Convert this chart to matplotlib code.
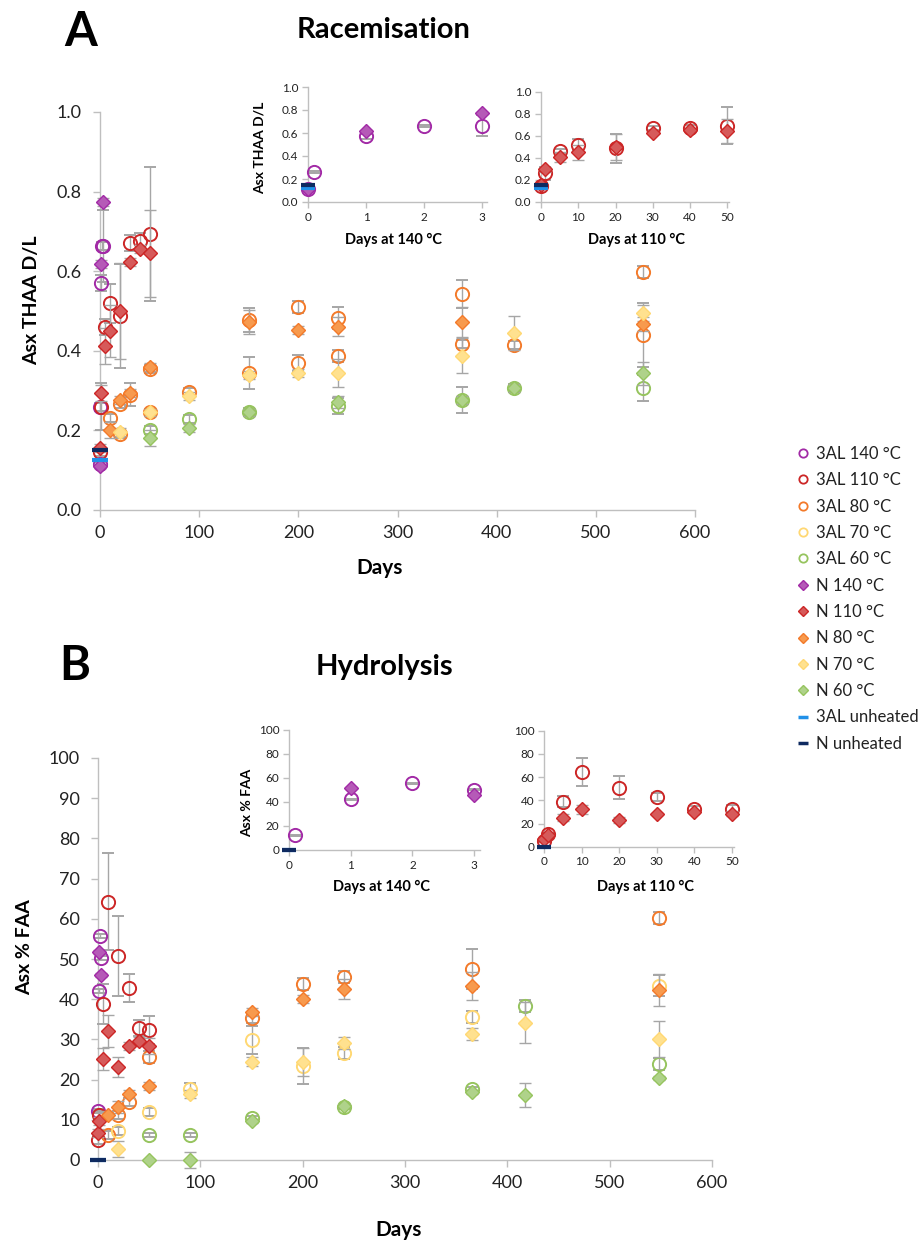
import matplotlib
matplotlib.use("Agg")
import matplotlib.pyplot as plt
from matplotlib.lines import Line2D
from matplotlib.ticker import FormatStrFormatter, MultipleLocator

plt.rcParams['font.family'] = ['Lato', 'DejaVu Sans']

W, H = 921, 1241

# ---------------- panel A: racemisation (Asx THAA D/L) ----------------
a_3al140_d = [0, 0.1, 1, 2, 3]
a_3al140_v = [0.116, 0.26, 0.57, 0.663, 0.663]
a_3al140_e = [0.005, 0.01, 0.02, 0.01, 0.09]
a_n140_d = [0, 1, 3]
a_n140_v = [0.11, 0.618, 0.775]
a_n140_e = [0.005, 0.01, 0.01]
a_3al110_d = [0, 1, 5, 10, 20, 30, 40, 50]
a_3al110_v = [0.145, 0.26, 0.46, 0.519, 0.487, 0.67, 0.675, 0.693]
a_3al110_e = [0.01, 0.06, 0.02, 0.05, 0.13, 0.02, 0.02, 0.168]
a_n110_d = [0, 1, 5, 10, 20, 30, 40, 50]
a_n110_v = [0.155, 0.295, 0.412, 0.45, 0.50, 0.624, 0.655, 0.645]
a_n110_e = [0.01, 0.02, 0.045, 0.065, 0.12, 0.01, 0.01, 0.11]
a_3al80_d = [10, 20, 30, 50, 150, 200, 240, 365, 548]
a_3al80_v = [0.23, 0.267, 0.29, 0.354, 0.477, 0.511, 0.482, 0.543, 0.598]
a_3al80_e = [0.01, 0.01, 0.028, 0.01, 0.03, 0.015, 0.027, 0.036, 0.016]
a_n80_d = [10, 20, 30, 50, 150, 200, 240, 365, 548]
a_n80_v = [0.201, 0.276, 0.295, 0.36, 0.473, 0.453, 0.461, 0.472, 0.468]
a_n80_e = [0.02, 0.01, 0.01, 0.01, 0.03, 0.01, 0.025, 0.037, 0.018]
a_3al70_d = [20, 50, 90, 150, 200, 240, 365, 417, 548]
a_3al70_v = [0.191, 0.247, 0.296, 0.345, 0.369, 0.387, 0.417, 0.415, 0.439]
a_3al70_e = [0.01, 0.008, 0.01, 0.04, 0.02, 0.015, 0.01, 0.01, 0.08]
a_n70_d = [20, 50, 90, 150, 200, 240, 365, 417, 548]
a_n70_v = [0.197, 0.245, 0.287, 0.34, 0.344, 0.345, 0.388, 0.444, 0.494]
a_n70_e = [0.01, 0.01, 0.01, 0.01, 0.01, 0.035, 0.043, 0.043, 0.02]
a_3al60_d = [50, 90, 150, 240, 365, 417, 548]
a_3al60_v = [0.201, 0.228, 0.247, 0.261, 0.276, 0.307, 0.306]
a_3al60_e = [0.01, 0.01, 0.01, 0.02, 0.033, 0.01, 0.032]
a_n60_d = [50, 90, 150, 240, 365, 417, 548]
a_n60_v = [0.18, 0.205, 0.245, 0.272, 0.276, 0.307, 0.343]
a_n60_e = [0.02, 0.01, 0.01, 0.015, 0.01, 0.01, 0.03]
a_unh_3al = 0.126
a_unh_n = 0.150

# ---------------- panel B: hydrolysis (Asx % FAA) ----------------
b_3al140_d = [0.1, 1, 2, 3]
b_3al140_v = [12.3, 42.1, 55.6, 50.2]
b_3al140_e = [0.5, 0.5, 0.5, 0.5]
b_n140_d = [1, 3]
b_n140_v = [51.7, 46.0]
b_n140_e = [0.5, 0.5]
b_3al110_d = [0, 1, 5, 10, 20, 30, 40, 50]
b_3al110_v = [5.0, 11.2, 38.8, 64.3, 50.8, 42.7, 32.8, 32.3]
b_3al110_e = [1, 1, 5, 12, 10, 3.5, 2, 3.5]
b_n110_d = [0, 1, 5, 10, 20, 30, 40, 50]
b_n110_v = [6.6, 9.8, 25.1, 32.1, 23.1, 28.4, 29.7, 28.4]
b_n110_e = [1, 1, 2.8, 4, 2.5, 1, 1, 2]
b_3al80_d = [10, 20, 30, 50, 150, 200, 240, 365, 548]
b_3al80_v = [6.1, 11.2, 14.5, 25.7, 35.2, 43.8, 45.5, 47.5, 60.2]
b_3al80_e = [1, 1, 1, 1.5, 1, 1.5, 1.5, 5, 1.5]
b_n80_d = [10, 20, 30, 50, 150, 200, 240, 365, 548]
b_n80_v = [11.2, 13.1, 16.3, 18.3, 36.9, 40.1, 42.5, 43.2, 42.3]
b_n80_e = [1, 1.5, 1, 1, 1, 1, 2.5, 3.5, 3.9]
b_3al70_d = [20, 50, 90, 150, 200, 240, 365, 548]
b_3al70_v = [7.3, 11.9, 17.6, 29.9, 23.4, 26.7, 35.5, 43.4]
b_3al70_e = [1, 1, 1.5, 3.5, 4.5, 1.5, 1.5, 2.7]
b_n70_d = [20, 90, 150, 200, 240, 365, 417, 548]
b_n70_v = [2.7, 16.4, 24.5, 24.4, 29.0, 31.4, 34.2, 30.1]
b_n70_e = [2, 1, 1.2, 3.5, 1.5, 1.5, 5.2, 4.5]
b_3al60_d = [50, 90, 150, 240, 365, 417, 548]
b_3al60_v = [6.2, 6.2, 10.5, 13.1, 17.6, 38.4, 23.9]
b_3al60_e = [0.5, 0.5, 0.5, 0.5, 0.5, 1.5, 1.5]
b_n60_d = [50, 90, 150, 240, 365, 417, 548]
b_n60_v = [0, 0, 9.8, 13.4, 16.8, 16.2, 20.5]
b_n60_e = [0.3, 1.9, 0.5, 0.5, 0.5, 3, 0.5]
b_unh_3al = 0
b_unh_n = 0

legend_labels = ['3AL 140 °C', '3AL 110 °C', '3AL 80 °C', '3AL 70 °C', '3AL 60 °C',
                 'N 140 °C', 'N 110 °C', 'N 80 °C', 'N 70 °C', 'N 60 °C',
                 '3AL unheated', 'N unheated']

# colours
edge = {140: '#A22AA6', 110: '#CC2626', 80: '#F37A2A', 70: '#FFD873', 60: '#96C45E'}
fill = {140: '#B55AB7', 110: '#D65A5A', 80: '#F79A4E', 70: '#FFE18F', 60: '#AFD28A'}
c_unh_3al = '#2090E8'
c_unh_n = '#0E2A60'
c_err = '#A6A6A6'
c_axis = '#BFBFBF'


def fx(px):
    return px / W


def fy(py):
    return 1 - py / H


def make_ax(x0, x1, y0, y1, xr, yr):
    # x0,x1: pixel columns of xr[0], xr[1]; y0,y1: pixel rows of yr[0], yr[1]
    ax = fig.add_axes([fx(x0), fy(y0), (x1 - x0) / W, (y0 - y1) / H])
    ax.set_xlim(*xr)
    ax.set_ylim(*yr)
    ax.patch.set_alpha(0)
    for s in ['top', 'right']:
        ax.spines[s].set_visible(False)
    for s in ['left', 'bottom']:
        ax.spines[s].set_color(c_axis)
        ax.spines[s].set_linewidth(1)
    return ax


def circles(ax, d, v, e, col, ms=9.5):
    ax.errorbar(d, v, yerr=e, fmt='o', ms=ms, mfc='none', mec=col, mew=1.4,
                ecolor=c_err, elinewidth=1, capsize=4, capthick=1, clip_on=False, zorder=3)


def diamonds(ax, d, v, e, t, ms=7):
    ax.errorbar(d, v, yerr=e, fmt='D', ms=ms, mfc=fill[t], mec=edge[t], mew=1.0,
                ecolor=c_err, elinewidth=1, capsize=4, capthick=1, clip_on=False, zorder=4)


def unheated(ax, v3, vn, ms=12):
    ax.plot([0], [v3], marker='_', ms=ms, mew=3, color=c_unh_3al, ls='none', clip_on=False, zorder=5)
    ax.plot([0], [vn], marker='_', ms=ms, mew=3, color=c_unh_n, ls='none', clip_on=False, zorder=5)


def style_main(ax, ystep, fmt):
    ax.xaxis.set_major_locator(MultipleLocator(100))
    ax.yaxis.set_major_locator(MultipleLocator(ystep))
    if fmt:
        ax.yaxis.set_major_formatter(FormatStrFormatter(fmt))
    ax.tick_params(direction='out', length=5, width=1, color=c_axis,
                   labelsize=13, labelcolor='#222222')
    ax.tick_params(axis='y', pad=8)
    ax.tick_params(axis='x', pad=6)


def style_inset(ax, xstep, ystep, fmt):
    ax.xaxis.set_major_locator(MultipleLocator(xstep))
    ax.yaxis.set_major_locator(MultipleLocator(ystep))
    if fmt:
        ax.yaxis.set_major_formatter(FormatStrFormatter(fmt))
    ax.tick_params(direction='out', length=4, width=1, color=c_axis,
                   labelsize=8.5, labelcolor='#222222', pad=3)


fig = plt.figure(figsize=(W / 100, H / 100), dpi=100)

# ---- main A
axA = make_ax(100, 695, 510, 112, (0, 600), (0, 1.0))
circles(axA, a_3al140_d, a_3al140_v, a_3al140_e, edge[140])
circles(axA, a_3al110_d, a_3al110_v, a_3al110_e, edge[110])
circles(axA, a_3al80_d, a_3al80_v, a_3al80_e, edge[80])
circles(axA, a_3al70_d, a_3al70_v, a_3al70_e, edge[80])  # drawn orange in the original
circles(axA, a_3al60_d, a_3al60_v, a_3al60_e, edge[60])
diamonds(axA, a_n140_d, a_n140_v, a_n140_e, 140)
diamonds(axA, a_n110_d, a_n110_v, a_n110_e, 110)
diamonds(axA, a_n80_d, a_n80_v, a_n80_e, 80)
diamonds(axA, a_n70_d, a_n70_v, a_n70_e, 70)
diamonds(axA, a_n60_d, a_n60_v, a_n60_e, 60)
unheated(axA, a_unh_3al, a_unh_n)
style_main(axA, 0.2, '%.1f')

# ---- inset A 140
axA1 = make_ax(308, 308 + 58 * 3.08, 202, 87, (0, 3.08), (0, 1.0))
circles(axA1, a_3al140_d, a_3al140_v, a_3al140_e, edge[140])
diamonds(axA1, a_n140_d, a_n140_v, a_n140_e, 140)
unheated(axA1, a_unh_3al, a_unh_n, ms=10)
style_inset(axA1, 1, 0.2, '%.1f')

# ---- inset A 110
axA2 = make_ax(541, 541 + 186.3 * 50.5 / 50, 202, 91.7, (0, 50.5), (0, 1.0))
circles(axA2, a_3al110_d, a_3al110_v, a_3al110_e, edge[110])
diamonds(axA2, a_n110_d, a_n110_v, a_n110_e, 110)
unheated(axA2, a_unh_3al, a_unh_n, ms=10)
style_inset(axA2, 10, 0.2, '%.1f')

# ---- main B
axB = make_ax(98, 712, 1160, 758, (0, 600), (0, 100))
circles(axB, b_3al140_d, b_3al140_v, b_3al140_e, edge[140])
circles(axB, b_3al110_d, b_3al110_v, b_3al110_e, edge[110])
circles(axB, b_3al80_d, b_3al80_v, b_3al80_e, edge[80])
circles(axB, b_3al70_d, b_3al70_v, b_3al70_e, edge[70])
circles(axB, b_3al60_d, b_3al60_v, b_3al60_e, edge[60])
diamonds(axB, b_n140_d, b_n140_v, b_n140_e, 140)
diamonds(axB, b_n110_d, b_n110_v, b_n110_e, 110)
diamonds(axB, b_n80_d, b_n80_v, b_n80_e, 80)
diamonds(axB, b_n70_d, b_n70_v, b_n70_e, 70)
diamonds(axB, b_n60_d, b_n60_v, b_n60_e, 60)
unheated(axB, b_unh_3al, b_unh_n)
style_main(axB, 10, None)

# ---- inset B 140
axB1 = make_ax(289, 289 + 61.7 * 3.1, 850, 730, (0, 3.1), (0, 100))
circles(axB1, b_3al140_d, b_3al140_v, b_3al140_e, edge[140])
diamonds(axB1, b_n140_d, b_n140_v, b_n140_e, 140)
unheated(axB1, b_unh_3al, b_unh_n, ms=10)
style_inset(axB1, 1, 20, None)

# ---- inset B 110
axB2 = make_ax(544, 544 + 188 * 50.5 / 50, 846.7, 730.7, (0, 50.5), (0, 100))
circles(axB2, b_3al110_d, b_3al110_v, b_3al110_e, edge[110])
diamonds(axB2, b_n110_d, b_n110_v, b_n110_e, 110)
unheated(axB2, b_unh_3al, b_unh_n, ms=10)
style_inset(axB2, 10, 20, None)

# ---- texts
bold = dict(fontweight='bold', color='black', ha='center', va='center')
fig.text(fx(80.5), fy(31.5), 'A', fontsize=34, **bold)
fig.text(fx(383.5), fy(30), 'Racemisation', fontsize=21, **bold)
fig.text(fx(75), fy(666.5), 'B', fontsize=34, **bold)
fig.text(fx(384), fy(667), 'Hydrolysis', fontsize=21, **bold)
fig.text(fx(31.5), fy(300), 'Asx THAA D/L', fontsize=14, rotation=90, **bold)
fig.text(fx(380), fy(568), 'Days', fontsize=15, **bold)
fig.text(fx(25), fy(947), 'Asx % FAA', fontsize=14, rotation=90, **bold)
fig.text(fx(399), fy(1230), 'Days', fontsize=15, **bold)
fig.text(fx(260), fy(148), 'Asx THAA D/L', fontsize=10, rotation=90, **bold)
fig.text(fx(393), fy(240), 'Days at 140 °C', fontsize=10.5, **bold)
fig.text(fx(637), fy(240), 'Days at 110 °C', fontsize=10.5, **bold)
fig.text(fx(247), fy(803), 'Asx % FAA', fontsize=10, rotation=90, **bold)
fig.text(fx(381), fy(887), 'Days at 140 °C', fontsize=10.5, **bold)
fig.text(fx(645), fy(887), 'Days at 110 °C', fontsize=10.5, **bold)

# ---- legend
temps = [140, 110, 80, 70, 60]
handles = [Line2D([], [], marker='o', ls='none', ms=6, mfc='none', mec=edge[t], mew=1.3) for t in temps]
handles += [Line2D([], [], marker='D', ls='none', ms=5, mfc=fill[t], mec=edge[t], mew=1.0) for t in temps]
handles += [Line2D([], [], marker='_', ls='none', ms=7, mew=2.5, color=c_unh_3al),
            Line2D([], [], marker='_', ls='none', ms=7, mew=2.5, color=c_unh_n)]
fig.legend(handles, legend_labels, loc='upper left', bbox_to_anchor=(fx(797), fy(446)),
           frameon=False, fontsize=12, labelspacing=0.62, handlelength=0.75,
           handletextpad=0.4, borderpad=0, borderaxespad=0, labelcolor='#222222')

fig.savefig('out.png', dpi=100)
